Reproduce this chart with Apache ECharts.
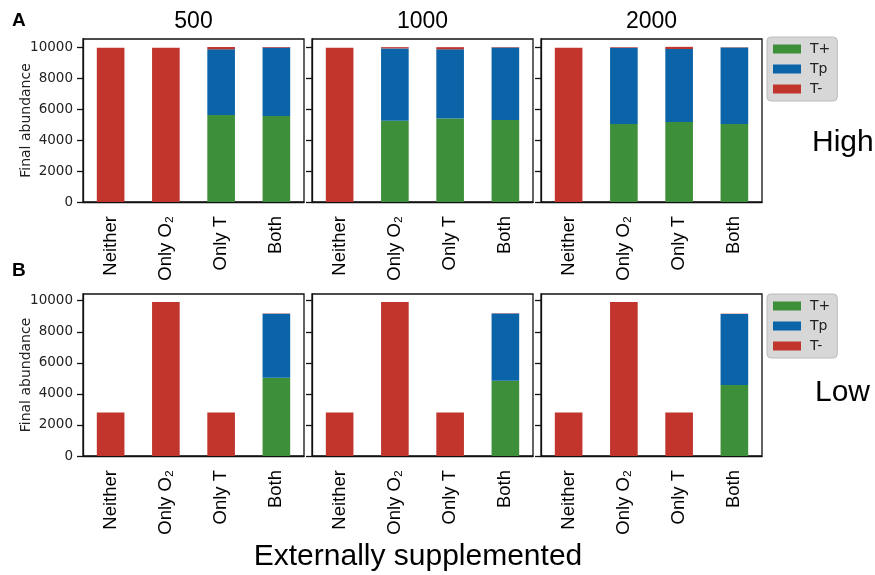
<!DOCTYPE html>
<html>
<head>
<meta charset="utf-8">
<script src="https://cdn.jsdelivr.net/npm/echarts@6/dist/echarts.min.js"></script>
<style>
  html, body { margin: 0; padding: 0; background: #fff; }
  #main { width: 875px; height: 575px; }
</style>
</head>
<body>
<div id="main"></div>
<script>
// categories / panels
const categories = ['Neither', 'Only O\u2082', 'Only T', 'Both'];
const panelTitles = ['500', '1000', '2000'];
const rowLabels = ['High', 'Low'];
const yTicks = [0, 2000, 4000, 6000, 8000, 10000];
const seriesNames = ['T+', 'Tp', 'T-'];

// row A (High): one array per panel (500, 1000, 2000)
const highTplus  = [[0, 0, 5620, 5560], [0, 5250, 5400, 5300], [0, 5040, 5170, 5040]];
const highTp     = [[0, 0, 4250, 4420], [0, 4680, 4470, 4680], [0, 4930, 4720, 4950]];
const highTminus = [[9970, 9970, 150, 40], [9970, 80, 140, 30], [9970, 40, 140, 20]];

// row B (Low)
const lowTplus  = [[0, 0, 0, 5040], [0, 0, 0, 4850], [0, 0, 0, 4570]];
const lowTp     = [[0, 0, 0, 4120], [0, 0, 0, 4320], [0, 0, 0, 4580]];
const lowTminus = [[2800, 9910, 2800, 20], [2800, 9910, 2800, 20], [2800, 9910, 2800, 20]];

const colors = ['#3e8f3a', '#0b64a8', '#c1352d'];

const rows = [
  { data: [highTplus, highTp, highTminus], top: 39, height: 163, max: 10537 },
  { data: [lowTplus, lowTp, lowTminus], top: 294, height: 162, max: 10431 }
];
const panelLeft = [83, 312, 541];
const panelWidth = 221;

const grids = [], xAxes = [], yAxes = [], series = [];
rows.forEach((row, r) => {
  panelLeft.forEach((left, p) => {
    const idx = grids.length;
    grids.push({
      left: left, top: row.top, width: panelWidth, height: row.height,
      show: true, borderColor: '#111', borderWidth: 1.3, backgroundColor: '#fff'
    });
    xAxes.push({
      type: 'category', gridIndex: idx, data: categories,
      axisLine: { lineStyle: { color: '#111', width: 1.3 } },
      axisTick: { alignWithLabel: true, length: 6, lineStyle: { color: '#111', width: 1.3 } },
      axisLabel: { rotate: 90, margin: 14, color: '#000', fontSize: 18.5, fontFamily: 'Liberation Sans' }
    });
    yAxes.push({
      type: 'value', gridIndex: idx, min: 0, max: row.max,
      splitLine: { show: false },
      axisLine: { show: true, lineStyle: { color: '#111', width: 1.3 } },
      axisTick: { show: true, length: 6, customValues: yTicks, lineStyle: { color: '#111', width: 1.3 } },
      axisLabel: {
        show: p === 0, customValues: yTicks, margin: 10,
        formatter: v => String(v),
        color: '#222', fontSize: 13.5, fontFamily: 'DejaVu Sans'
      },
      name: p === 0 ? 'Final abundance' : '',
      nameLocation: 'middle', nameRotate: 90, nameGap: 50, nameMoveOverlap: false,
      nameTextStyle: { color: '#222', fontSize: 14, fontFamily: 'DejaVu Sans' }
    });
    seriesNames.forEach((name, s) => {
      series.push({
        type: 'bar', name: name, stack: 'st' + idx,
        xAxisIndex: idx, yAxisIndex: idx,
        barWidth: '50%',
        itemStyle: { color: colors[s] },
        data: row.data[s][p]
      });
    });
  });
});

const legendBase = {
  orient: 'vertical', left: 767, selectedMode: false,
  data: seriesNames, icon: 'rect', itemWidth: 28, itemHeight: 9, itemGap: 6,
  padding: [5, 7, 5, 6],
  backgroundColor: '#d7d7d7', borderColor: '#bcbcbc', borderWidth: 1, borderRadius: 4,
  textStyle: { color: '#222', fontSize: 14, lineHeight: 14, fontFamily: 'DejaVu Sans', padding: [0, 0, 0, 4] }
};

const bigFont = 'Liberation Sans';
const graphics = [];
panelTitles.forEach((t, p) => {
  graphics.push({ type: 'text', x: panelLeft[p] + panelWidth / 2, y: 22,
    style: { text: t, fontSize: 23, fontFamily: bigFont, fill: '#000', align: 'center', verticalAlign: 'middle' } });
});
graphics.push({ type: 'text', x: 12, y: 21,
  style: { text: 'A', fontSize: 19, fontWeight: 'bold', fontFamily: bigFont, fill: '#000', verticalAlign: 'middle' } });
graphics.push({ type: 'text', x: 12, y: 271,
  style: { text: 'B', fontSize: 19, fontWeight: 'bold', fontFamily: bigFont, fill: '#000', verticalAlign: 'middle' } });
graphics.push({ type: 'text', x: 812, y: 143,
  style: { text: rowLabels[0], fontSize: 30, fontFamily: bigFont, fill: '#000', verticalAlign: 'middle' } });
graphics.push({ type: 'text', x: 815, y: 393,
  style: { text: rowLabels[1], fontSize: 30, fontFamily: bigFont, fill: '#000', verticalAlign: 'middle' } });
graphics.push({ type: 'text', x: 418, y: 557,
  style: { text: 'Externally supplemented', fontSize: 30, fontFamily: bigFont, fill: '#000', align: 'center', verticalAlign: 'middle' } });

const myChart = echarts.init(document.getElementById('main'), null, { renderer: 'canvas' });
myChart.setOption({
  animation: false,
  grid: grids,
  xAxis: xAxes,
  yAxis: yAxes,
  legend: [
    Object.assign({}, legendBase, { top: 37 }),
    Object.assign({}, legendBase, { top: 294 })
  ],
  graphic: graphics,
  series: series
});
</script>
</body>
</html>
